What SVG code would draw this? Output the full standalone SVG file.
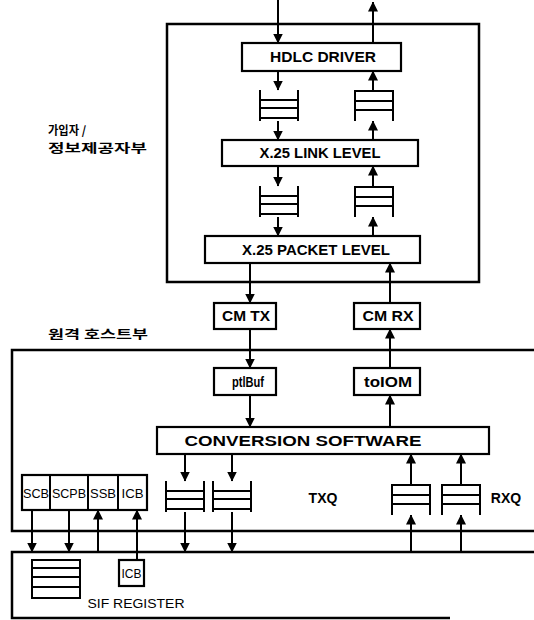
<svg xmlns="http://www.w3.org/2000/svg" width="534" height="620" viewBox="0 0 534 620">
<style>
.bx{fill:#fff;stroke:#000;stroke-width:2.2}
.fr{fill:none;stroke:#000;stroke-width:2.5}
.q{fill:none;stroke:#000;stroke-width:2}
.t{font-family:"Liberation Sans",Arial,sans-serif;font-weight:bold;font-size:14px;fill:#000;text-anchor:middle}
.s{font-family:"Liberation Sans Narrow","Liberation Sans",Arial,sans-serif;font-size:13px;fill:#000;text-anchor:middle}
.k{font-family:"Noto Sans CJK KR",sans-serif;font-weight:bold;font-size:12px;fill:#000}
.c line{stroke:#000;stroke-width:2}
</style>
<defs>
<marker id="ah" markerUnits="userSpaceOnUse" markerWidth="10" markerHeight="11" refX="9.5" refY="5" orient="auto">
<path d="M0,0 L10,5 L0,10 Z" fill="#000"/>
</marker>
<g id="qtx" class="q"><path d="M0,0 V31 M38,0 V31 M0,10 H38 M0,18 H38 M0,28 H38"/></g>
<g id="qrx" class="q"><path d="M0,0 V31 M38,0 V31 M0,1 H38 M0,11 H38 M0,20 H38"/></g>
</defs>
<rect width="534" height="620" fill="#fff"/>

<g id="subscriber">
<rect class="fr" x="167" y="24" width="312" height="258"/>
<text class="k" x="48" y="135" textLength="38" lengthAdjust="spacingAndGlyphs">가입자 /</text>
<text class="k" x="48" y="153" textLength="99" lengthAdjust="spacingAndGlyphs">정보제공자부</text>
</g>
<g id="host">
<path class="fr" d="M534,350 H12 V531 H534"/>
<text class="k" x="48" y="339" textLength="100" lengthAdjust="spacingAndGlyphs">원격 호스트부</text>
</g>
<g id="sif">
<path class="fr" d="M534,552 H12 V618 H450"/>
<rect class="q" x="32" y="560" width="48" height="38"/>
<path class="q" d="M32,568 H80 M32,577 H80 M32,587 H80"/>
<text class="s" x="136" y="608" textLength="97" lengthAdjust="spacingAndGlyphs">SIF REGISTER</text>
</g>
<g id="icb2"><rect class="bx" x="119" y="560" width="25" height="26"/><text class="s" x="131.5" y="578" textLength="20" lengthAdjust="spacingAndGlyphs">ICB</text></g>

<g id="hdlc"><rect class="bx" x="242" y="43" width="159" height="28"/><text class="t" x="323" y="62" textLength="106" lengthAdjust="spacingAndGlyphs">HDLC DRIVER</text></g>
<g id="link"><rect class="bx" x="222" y="140" width="196" height="26"/><text class="t" x="320" y="158" textLength="121" lengthAdjust="spacingAndGlyphs">X.25 LINK LEVEL</text></g>
<g id="packet"><rect class="bx" x="205" y="236" width="215" height="27"/><text class="t" x="316" y="255" textLength="148" lengthAdjust="spacingAndGlyphs">X.25 PACKET LEVEL</text></g>
<g id="cmtx"><rect class="bx" x="214" y="303" width="62" height="26"/><text class="t" x="246" y="321" textLength="48" lengthAdjust="spacingAndGlyphs">CM TX</text></g>
<g id="cmrx"><rect class="bx" x="354" y="303" width="66" height="26"/><text class="t" x="388" y="321" textLength="51" lengthAdjust="spacingAndGlyphs">CM RX</text></g>
<g id="ptlbuf"><rect class="bx" x="214" y="368" width="62" height="27"/><text class="t" x="248" y="387" textLength="32" lengthAdjust="spacingAndGlyphs">ptlBuf</text></g>
<g id="toiom"><rect class="bx" x="354" y="368" width="66" height="27"/><text class="t" x="388" y="387" textLength="48" lengthAdjust="spacingAndGlyphs">toIOM</text></g>
<g id="conv"><rect class="bx" x="157" y="427" width="332" height="27"/><text class="t" x="303" y="446" textLength="237" lengthAdjust="spacingAndGlyphs">CONVERSION SOFTWARE</text></g>

<g id="q1"><use href="#qtx" x="260" y="90"/></g>
<g id="q2"><use href="#qrx" x="355" y="90"/></g>
<g id="q3"><use href="#qtx" x="260" y="186"/></g>
<g id="q4"><use href="#qrx" x="355" y="186"/></g>
<g id="txq1"><use href="#qtx" x="166" y="481"/></g>
<g id="txq2"><use href="#qtx" x="213" y="481"/></g>
<g id="rxq1"><use href="#qrx" x="392" y="484"/></g>
<g id="rxq2"><use href="#qrx" x="442" y="484"/></g>
<g id="labels">
<text class="t" x="323" y="503">TXQ</text>
<text class="t" x="506" y="503">RXQ</text>
</g>

<g id="ctrl">
<rect class="bx" x="22" y="475" width="125" height="35"/>
<path class="q" d="M50,475 V510 M88,475 V510 M118,475 V510"/>
<text class="s" x="36" y="498" textLength="26" lengthAdjust="spacingAndGlyphs">SCB</text>
<text class="s" x="69" y="498" textLength="34" lengthAdjust="spacingAndGlyphs">SCPB</text>
<text class="s" x="103" y="498" textLength="26" lengthAdjust="spacingAndGlyphs">SSB</text>
<text class="s" x="132.5" y="498" textLength="22" lengthAdjust="spacingAndGlyphs">ICB</text>
</g>

<g id="connectors" class="c">
<line x1="278" y1="0" x2="278" y2="43" marker-end="url(#ah)"/>
<line x1="373" y1="43" x2="373" y2="2" marker-end="url(#ah)"/>
<line x1="278" y1="71" x2="278" y2="90" marker-end="url(#ah)"/>
<line x1="278" y1="121" x2="278" y2="140" marker-end="url(#ah)"/>
<line x1="373" y1="140" x2="373" y2="121" marker-end="url(#ah)"/>
<line x1="373" y1="90" x2="373" y2="71" marker-end="url(#ah)"/>
<line x1="278" y1="166" x2="278" y2="186" marker-end="url(#ah)"/>
<line x1="278" y1="217" x2="278" y2="236" marker-end="url(#ah)"/>
<line x1="373" y1="236" x2="373" y2="217" marker-end="url(#ah)"/>
<line x1="373" y1="186" x2="373" y2="166" marker-end="url(#ah)"/>
<line x1="250" y1="263" x2="250" y2="303" marker-end="url(#ah)"/>
<line x1="390" y1="303" x2="390" y2="263" marker-end="url(#ah)"/>
<line x1="250" y1="329" x2="250" y2="368" marker-end="url(#ah)"/>
<line x1="390" y1="368" x2="390" y2="329" marker-end="url(#ah)"/>
<line x1="250" y1="395" x2="250" y2="427" marker-end="url(#ah)"/>
<line x1="390" y1="427" x2="390" y2="395" marker-end="url(#ah)"/>
<line x1="185" y1="454" x2="185" y2="481" marker-end="url(#ah)"/>
<line x1="232" y1="454" x2="232" y2="481" marker-end="url(#ah)"/>
<line x1="185" y1="512" x2="185" y2="552" marker-end="url(#ah)"/>
<line x1="232" y1="512" x2="232" y2="552" marker-end="url(#ah)"/>
<line x1="411" y1="484" x2="411" y2="454" marker-end="url(#ah)"/>
<line x1="461" y1="484" x2="461" y2="454" marker-end="url(#ah)"/>
<line x1="411" y1="552" x2="411" y2="515" marker-end="url(#ah)"/>
<line x1="461" y1="552" x2="461" y2="515" marker-end="url(#ah)"/>
<line x1="32" y1="510" x2="32" y2="552" marker-end="url(#ah)"/>
<line x1="69" y1="510" x2="69" y2="552" marker-end="url(#ah)"/>
<line x1="98" y1="552" x2="98" y2="510" marker-end="url(#ah)"/>
<line x1="137" y1="560" x2="137" y2="510" marker-end="url(#ah)"/>
</g>
</svg>
